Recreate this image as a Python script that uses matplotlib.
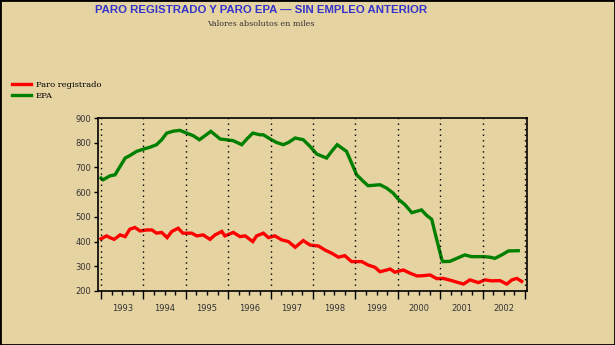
import matplotlib
matplotlib.use("Agg")
import matplotlib.pyplot as plt
import numpy as np

title = "PARO REGISTRADO Y PARO EPA \u2014 SIN EMPLEO ANTERIOR"
subtitle = "Valores absolutos en miles"
series_names = ["Paro registrado", "EPA"]
years = list(range(1993, 2003))

epa_t = [1993.00, 1993.05, 1993.21, 1993.33, 1993.45, 1993.57, 1993.68, 1993.84,
         1994.00, 1994.16, 1994.31, 1994.43, 1994.55, 1994.71, 1994.86,
         1995.02, 1995.18, 1995.32, 1995.45, 1995.59, 1995.69, 1995.81, 1995.96,
         1996.12, 1996.32, 1996.44, 1996.58, 1996.75, 1996.83, 1996.99,
         1997.14, 1997.30, 1997.42, 1997.58, 1997.77, 1997.93,
         1998.09, 1998.32, 1998.44, 1998.57, 1998.79, 1998.91,
         1999.03, 1999.19, 1999.30, 1999.58, 1999.74, 1999.89,
         2000.01, 2000.17, 2000.33, 2000.56, 2000.68, 2000.80, 2000.88, 2000.96,
         2001.04, 2001.07, 2001.23, 2001.39, 2001.58, 2001.74,
         2002.02, 2002.17, 2002.29, 2002.45, 2002.61, 2002.84]
epa_v = [657, 650, 666, 670, 704, 738, 748, 765,
         774, 782, 792, 812, 839, 847, 850,
         839, 828, 812, 828, 846, 832, 815, 812,
         808, 792, 815, 839, 832, 832, 815,
         801, 792, 801, 819, 812, 785,
         754, 738, 765, 792, 765, 718,
         670, 643, 626, 630, 616, 596,
         572, 549, 517, 528, 506, 490, 434, 380,
         326, 319, 320, 332, 346, 339,
         339, 337, 332, 346, 362, 363]

reg_t = [1993.00, 1993.13, 1993.21, 1993.31, 1993.45, 1993.57, 1993.68, 1993.80, 1993.92,
         1994.08, 1994.20, 1994.31, 1994.43, 1994.56, 1994.67, 1994.82, 1994.93,
         1995.14, 1995.26, 1995.41, 1995.57, 1995.69, 1995.85, 1995.92,
         1996.12, 1996.28, 1996.40, 1996.58, 1996.67, 1996.83, 1996.95,
         1997.10, 1997.26, 1997.42, 1997.58, 1997.77, 1997.93,
         1998.13, 1998.28, 1998.44, 1998.60, 1998.75, 1998.91,
         1999.15, 1999.30, 1999.46, 1999.58, 1999.74, 1999.82, 1999.93,
         2000.13, 2000.29, 2000.45, 2000.60, 2000.76, 2000.92,
         2001.07, 2001.27, 2001.43, 2001.55, 2001.70, 2001.90,
         2002.06, 2002.21, 2002.41, 2002.57, 2002.69, 2002.81, 2002.92]
reg_v = [411, 423, 416, 409, 427, 420, 450, 457, 443,
         447, 447, 434, 437, 416, 441, 454, 434,
         434, 423, 427, 409, 427, 441, 423,
         437, 420, 423, 400, 423, 434, 416,
         423, 407, 400, 377, 404, 386,
         382, 366, 353, 337, 343, 319,
         319, 305, 296, 278, 285, 289, 276,
         285, 272, 261, 262, 265, 250,
         251, 242, 234, 228, 245, 234,
         245, 241, 242, 228, 245, 251, 239]

bg = "#E6D3A2"
fig = plt.figure(figsize=(6.15, 3.45), dpi=100, facecolor=bg)
fig.patches.append(plt.Rectangle((0, 0), 1, 1, transform=fig.transFigure,
                                 fill=False, edgecolor="black", linewidth=2))
ax = fig.add_axes([98/615, 1-291/345, (527-98)/615, (291-118)/345])
ax.set_facecolor(bg)

l1, = ax.plot(reg_t, reg_v, color="#FF0000", linewidth=2.4, solid_joinstyle="miter")
l2, = ax.plot(epa_t, epa_v, color="#008000", linewidth=2.4, solid_joinstyle="miter")

x0 = years[0] - 3/42.4
x1 = years[-1] + 1 + 2/42.4
ax.set_xlim(x0, x1)
ax.set_ylim(200, 900)

bounds = list(range(years[0], years[-1] + 2))
for b in bounds:
    ax.axvline(b, color="black", linestyle=(0, (1, 3)), linewidth=1)

ax.set_xticks(bounds)
ax.set_xticklabels([])
ax.set_xticks([b + q/4 for b in bounds[:-1] for q in (1, 2, 3)], minor=True)
for y in years:
    ax.text(y + 0.5, -0.10, str(y), transform=ax.get_xaxis_transform(),
            ha="center", va="center", fontsize=6, color="#333333",
            family="DejaVu Sans")
ax.tick_params(axis="x", which="major", direction="out", length=6, width=1, color="black")
ax.tick_params(axis="x", which="minor", direction="out", length=3, width=1, color="black")

ax.set_yticks(list(range(200, 901, 100)))
ax.tick_params(axis="y", direction="out", length=3, width=1, labelsize=6,
               labelcolor="#333333", pad=2)
for sp in ax.spines.values():
    sp.set_linewidth(1.2)
    sp.set_color("black")

fig.text(261/615, 1-10/345, title, ha="center", va="center", fontsize=8.2,
         fontweight="bold", color="#3333CC", family="Liberation Sans")
fig.text(261/615, 1-24/345, subtitle, ha="center", va="center", fontsize=5.8,
         color="#333333", family="DejaVu Serif")

fig.legend([l1, l2], series_names, loc="upper left", bbox_to_anchor=(12/615, 1-81/345),
           frameon=False, handlelength=2.3, handletextpad=0.55,
           labelspacing=0.35, borderaxespad=0, borderpad=0,
           prop={"family": "DejaVu Serif", "size": 6})

fig.savefig("out.png", dpi=100, facecolor=bg)
